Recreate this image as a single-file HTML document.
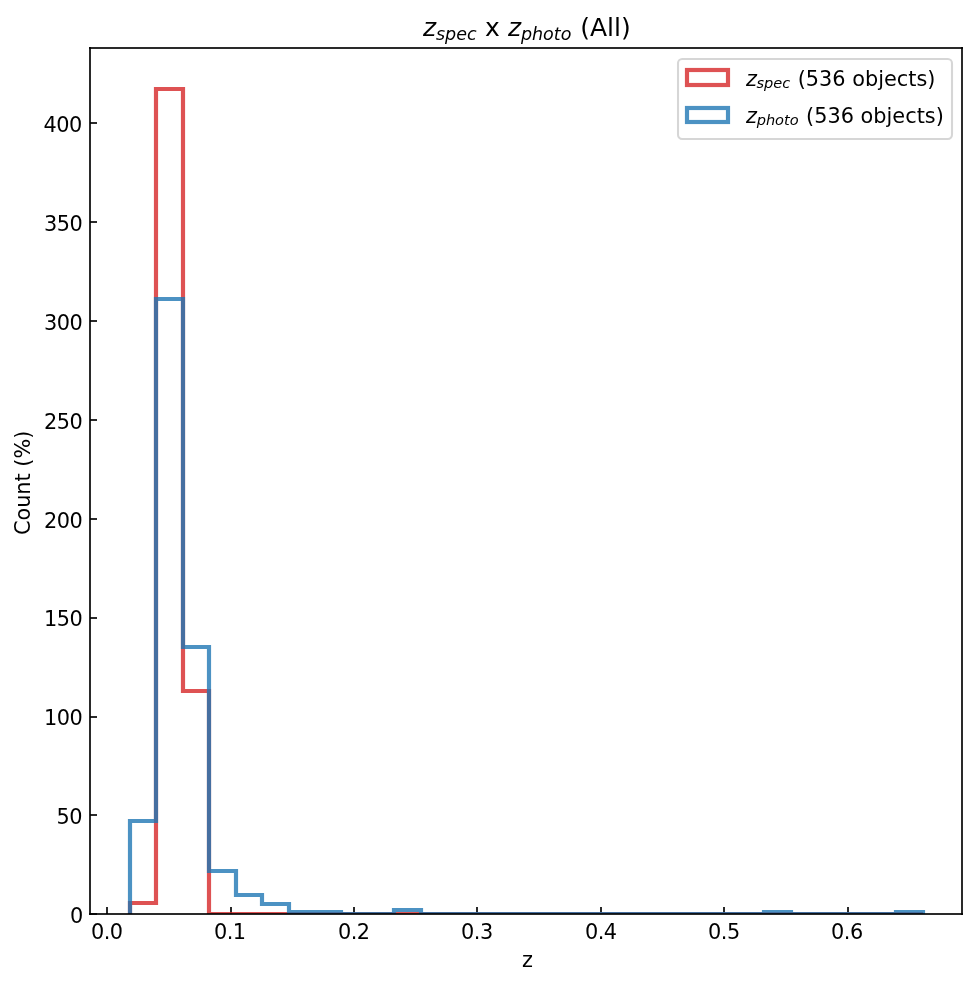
<!DOCTYPE html>
<html lang="en"><head><meta charset="utf-8"><title>z_spec x z_photo (All)</title>
<style>
html,body{margin:0;padding:0;background:#fff;}
body{width:977px;height:985px;overflow:hidden;}
svg{display:block;}
text{font-family:"DejaVu Sans","Liberation Sans",sans-serif;fill:#000;font-size:20.8333px;}
.i{font-style:oblique;}
.sub{font-style:oblique;font-size:14.5833px;}
.tsub{font-style:oblique;font-size:17.5000px;}
.ln{stroke:#000;stroke-opacity:0.835;stroke-width:2;fill:none;}
.h{fill:none;stroke-width:4.1667;stroke-linejoin:miter;opacity:0.8;}
</style></head><body>
<svg width="977" height="985" viewBox="0 0 977 985">
<rect x="0" y="0" width="977" height="985" fill="#fff"/>
<defs><clipPath id="ax"><rect x="90" y="48" width="872" height="866"/></clipPath></defs>
<g id="xaxis" style="letter-spacing:-0.50px">
<path class="ln" d="M107 914V907"/>
<text x="106.79" y="939.00" text-anchor="middle">0.0</text>
<path class="ln" d="M231 914V907"/>
<text x="229.80" y="939.00" text-anchor="middle">0.1</text>
<path class="ln" d="M354 914V907"/>
<text x="353.80" y="939.00" text-anchor="middle">0.2</text>
<path class="ln" d="M477 914V907"/>
<text x="476.91" y="939.00" text-anchor="middle">0.3</text>
<path class="ln" d="M601 914V907"/>
<text x="600.76" y="939.00" text-anchor="middle">0.4</text>
<path class="ln" d="M724 914V907"/>
<text x="723.86" y="939.00" text-anchor="middle">0.5</text>
<path class="ln" d="M848 914V907"/>
<text x="846.92" y="939.00" text-anchor="middle">0.6</text>
</g>
<text id="xlabel" x="527.46" y="966.54" text-anchor="middle">z</text>
<g id="yaxis" style="letter-spacing:-0.50px">
<path class="ln" d="M90 914H97"/>
<text x="82.78" y="923.00" text-anchor="end">0</text>
<path class="ln" d="M90 815H97"/>
<text x="81.93" y="824.00" text-anchor="end">50</text>
<path class="ln" d="M90 717H97"/>
<text x="82.23" y="725.00" text-anchor="end">100</text>
<path class="ln" d="M90 618H97"/>
<text x="82.23" y="626.00" text-anchor="end">150</text>
<path class="ln" d="M90 519H97"/>
<text x="82.23" y="528.00" text-anchor="end">200</text>
<path class="ln" d="M90 420H97"/>
<text x="82.23" y="429.00" text-anchor="end">250</text>
<path class="ln" d="M90 321H97"/>
<text x="82.23" y="330.00" text-anchor="end">300</text>
<path class="ln" d="M90 222H97"/>
<text x="82.23" y="231.00" text-anchor="end">350</text>
<path class="ln" d="M90 123H97"/>
<text x="81.73" y="132.00" text-anchor="end">400</text>
</g>
<text id="ylabel" x="29.95" y="482.85" text-anchor="middle" transform="rotate(-90 29.95 482.85)">Count (%)</text>
<g clip-path="url(#ax)" class="h"><path stroke="#d62728" d="M130 914V903H156V89H183V691H209V914H236H262H289H315H341H368H394H421H447H473H500H526H553H579H606H632H658H685H711H738H764H791H817H843H870H896H923"/></g>
<g clip-path="url(#ax)" class="h"><path stroke="#1f77b4" d="M130 914V821H156V299H183V647H209V871H236V895H262V904H289V912H315H341V914H368H394V910H421V914H447H473H500H526H553H579H606H632H658H685H711H738H764V912H791V914H817H843H870H896V912H923V914"/></g>
<g id="spines" class="ln" stroke-linecap="square">
<path d="M90 914V48"/><path d="M962 914V48"/><path d="M90 914H962"/><path d="M90 48H962"/>
</g>
<text id="title" style="font-size:25.0000px"><tspan class="i" x="423.07" y="35.50">z</tspan><tspan class="tsub" x="435.99" y="39.60">spec</tspan><tspan x="485.02" y="35.50">x</tspan><tspan class="i" x="507.97" y="35.50">z</tspan><tspan class="tsub" x="520.89" y="39.60">photo</tspan><tspan x="580.20" y="35.50">(All)</tspan></text>
<g id="legend">
<rect x="678" y="59" width="274" height="80" rx="4.17" fill="#fff" stroke="#ccc" stroke-width="2.0833" opacity="0.8"/>
<rect x="687" y="70" width="41" height="15" fill="none" stroke="#d62728" stroke-width="4.1667" opacity="0.8"/>
<text><tspan class="i" x="745.97" y="85.86">z</tspan><tspan class="sub" x="756.49" y="87.61">spec</tspan><tspan x="797.73" y="85.86">(536 objects)</tspan></text>
<rect x="687" y="108" width="41" height="14" fill="none" stroke="#1f77b4" stroke-width="4.1667" opacity="0.8"/>
<text><tspan class="i" x="745.92" y="122.77">z</tspan><tspan class="sub" x="756.64" y="124.52">photo</tspan><tspan x="806.11" y="122.77">(536 objects)</tspan></text>
</g>
</svg>
</body></html>
